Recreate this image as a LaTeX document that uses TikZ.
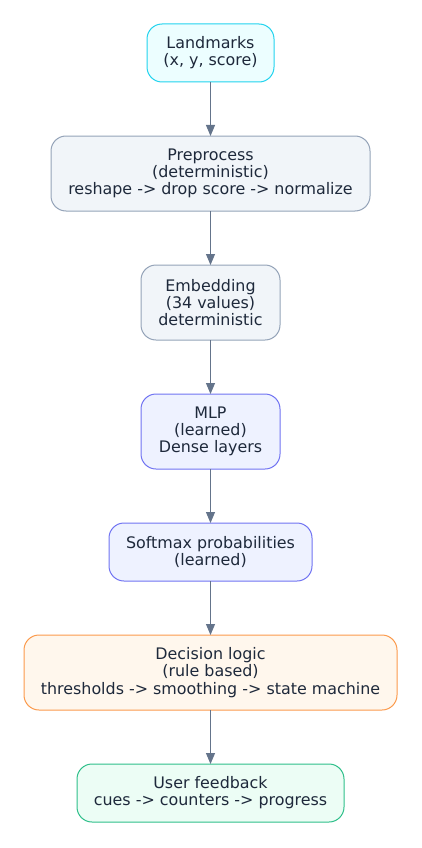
\documentclass[tikz,border=0pt]{standalone}
\usepackage{fontspec}
\setmainfont{DejaVu Sans}
\usetikzlibrary{positioning,arrows.meta}
\definecolor{txtcol}{HTML}{1E293B}
\definecolor{arrowcol}{HTML}{64748B}
\definecolor{inFill}{HTML}{ECFEFF}
\definecolor{inDraw}{HTML}{22D3EE}
\definecolor{detFill}{HTML}{F1F5F9}
\definecolor{detDraw}{HTML}{94A3B8}
\definecolor{learnFill}{HTML}{EEF2FF}
\definecolor{learnDraw}{HTML}{7073F2}
\definecolor{ruleFill}{HTML}{FFF7ED}
\definecolor{ruleDraw}{HTML}{FB9A4C}
\definecolor{outFill}{HTML}{ECFDF5}
\definecolor{outDraw}{HTML}{2EBF8A}

\tikzset{
  box/.style={rectangle, rounded corners=15pt, draw, line width=1pt,
    align=center, text=txtcol, inner sep=0pt, outer sep=0pt,
    font=\fontsize{15.9}{17.2}\selectfont},
  twoline/.style={box, minimum height=58pt},
  threeline/.style={box, minimum height=75pt},
  inbox/.style={fill=inFill, draw=inDraw},
  detbox/.style={fill=detFill, draw=detDraw},
  learnbox/.style={fill=learnFill, draw=learnDraw},
  rulebox/.style={fill=ruleFill, draw=ruleDraw},
  outbox/.style={fill=outFill, draw=outDraw},
  flow/.style={-{Triangle[length=11pt,width=9pt]}, draw=arrowcol, fill=arrowcol, line width=1.2pt},
}

\begin{document}
\begin{tikzpicture}[x=1pt, y=1pt, node distance=54pt]
  \useasboundingbox (0,0) rectangle (421,-848);

  % pipeline, top to bottom
  \node[twoline, inbox, minimum width=127pt] (landmarks) at (210.5,-53) {Landmarks\\(x, y, score)};
  \node[threeline, detbox, minimum width=319pt, below=of landmarks] (preproc) {Preprocess\\(deterministic)\\reshape -> drop score -> normalize};
  \node[threeline, detbox, minimum width=139pt, below=of preproc] (embed) {Embedding\\(34 values)\\deterministic};
  \node[threeline, learnbox, minimum width=139pt, below=of embed] (mlp) {MLP\\(learned)\\Dense layers};
  \node[twoline, learnbox, minimum width=203pt, below=of mlp] (softmax) {Softmax probabilities\\(learned)};
  \node[threeline, rulebox, minimum width=373pt, below=of softmax] (decision) {Decision logic\\(rule based)\\thresholds -> smoothing -> state machine};
  \node[twoline, outbox, minimum width=267pt, below=of decision] (feedback) {User feedback\\cues -> counters -> progress};

  \draw[flow] (landmarks) -- (preproc);
  \draw[flow] (preproc) -- (embed);
  \draw[flow] (embed) -- (mlp);
  \draw[flow] (mlp) -- (softmax);
  \draw[flow] (softmax) -- (decision);
  \draw[flow] (decision) -- (feedback);
\end{tikzpicture}
\end{document}
